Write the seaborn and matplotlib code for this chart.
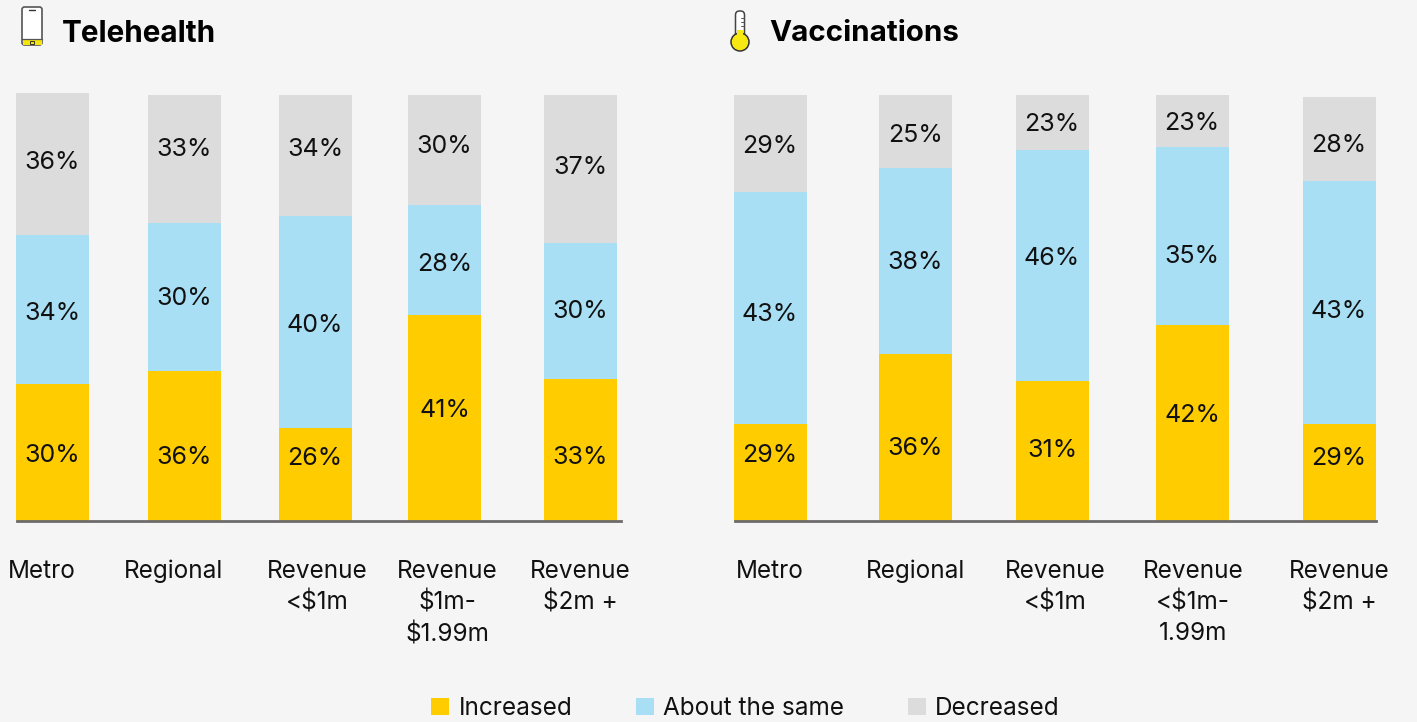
import numpy as np
import pandas as pd
import matplotlib
matplotlib.use("Agg")
import matplotlib.pyplot as plt
from matplotlib.patches import FancyBboxPatch, Circle, Rectangle
from matplotlib.lines import Line2D
import seaborn as sns

# ---------- data ----------
titles = ["Telehealth", "Vaccinations"]
series = ["Increased", "About the same", "Decreased"]
categories_tele = ["Metro", "Regional", "Revenue\n<$1m", "Revenue\n$1m-\n$1.99m", "Revenue\n$2m +"]
categories_vacc = ["Metro", "Regional", "Revenue\n<$1m", "Revenue\n<$1m-\n1.99m", "Revenue\n$2m +"]

# printed labels
tele_inc_lab = [30, 36, 26, 41, 33]
tele_same_lab = [34, 30, 40, 28, 30]
tele_dec_lab = [36, 33, 34, 30, 37]
vacc_inc_lab = [29, 36, 31, 42, 29]
vacc_same_lab = [43, 38, 46, 35, 43]
vacc_dec_lab = [29, 25, 23, 23, 28]

# drawn segment heights (share of a full bar)
tele_inc = [32.2, 35.2, 21.8, 48.4, 33.3]
tele_same = [35.0, 34.7, 49.8, 25.8, 31.9]
tele_dec = [33.3, 30.0, 28.4, 25.8, 34.7]
vacc_inc = [22.8, 39.2, 32.9, 46.0, 22.8]
vacc_same = [54.4, 43.7, 54.2, 41.8, 57.0]
vacc_dec = [22.8, 17.1, 12.9, 12.2, 19.7]

# ---------- layout (pixels in a 1417x722 figure) ----------
W, H = 1417, 722
BASE_Y, TOP_Y = 521, 95
BG = "#F5F5F5"
COLORS = ["#FFCC00", "#A8DFF4", "#DCDCDC"]
TEXT = "#111111"
FONT = "Inter"

centres = [[52.5, 184.5, 315, 444.5, 580.5], [770, 915, 1052, 1192, 1339]]
tick_x = [[42, 173, 317, 447, 580], [770, 915, 1055, 1193, 1339]]
spine_x = [(17, 620.5), (735, 1376)]
BAR_W = 73
# label nudges (px, positive = downwards) for [inc, same, dec]
nudges = [
    [[1, 9, -19, -10, 5], [2, -1, 1, 2, -2], [-4, -12, -8, -6, -4]],
    [[-19, 8, -3, -10, -16], [4, -1, -9, 18, 7], [0, 2, 0, 0, 4]],
]

sns.set_theme(style="white", rc={"figure.facecolor": BG, "axes.facecolor": "none"})
plt.rcParams["font.family"] = [FONT, "DejaVu Sans"]

fig = plt.figure(figsize=(W / 100, H / 100), dpi=100, facecolor=BG)

panels = [
    (tele_inc, tele_same, tele_dec, tele_inc_lab, tele_same_lab, tele_dec_lab, categories_tele),
    (vacc_inc, vacc_same, vacc_dec, vacc_inc_lab, vacc_same_lab, vacc_dec_lab, categories_vacc),
]
x_ranges = [(0, 700), (700, 1417)]
unit = (BASE_Y - TOP_Y) / 100.0

for i, panel in enumerate(panels):
    x0, x1 = x_ranges[i]
    ax = fig.add_axes([x0 / W, 1 - BASE_Y / H, (x1 - x0) / W, (BASE_Y - TOP_Y + 10) / H])
    ax.set_xlim(x0, x1)
    ax.set_ylim(0, (BASE_Y - TOP_Y + 10) / unit)
    heights = panel[:3]
    labels = panel[3:6]
    cats = panel[6]
    bottom = np.zeros(5)
    spacing = min(np.diff(centres[i]))
    for s, vals in enumerate(heights):
        df = pd.DataFrame({"x": centres[i], "y": vals})
        sns.barplot(data=df, x="x", y="y", native_scale=True, bottom=bottom,
                    color=COLORS[s], saturation=1, width=BAR_W / spacing,
                    linewidth=0, errorbar=None, ax=ax)
        for j, v in enumerate(vals):
            ax.annotate(f"{labels[s][j]}%", (centres[i][j], bottom[j] + v / 2),
                        xytext=(0, -nudges[i][s][j]), textcoords="offset pixels",
                        ha="center", va="center_baseline", fontsize=18, color=TEXT)
        bottom = bottom + np.array(vals)
    ax.set_xlim(x0, x1)
    ax.set_ylim(0, (BASE_Y - TOP_Y + 10) / unit)
    ax.set_xlabel("")
    ax.set_ylabel("")
    ax.set_yticks([])
    ax.set_xticks(tick_x[i])
    ax.set_xticklabels(cats, fontsize=17.5, color=TEXT, linespacing=1.4)
    ax.tick_params(axis="x", length=0, pad=28)
    for side in ("top", "left", "right"):
        ax.spines[side].set_visible(False)
    ax.spines["bottom"].set_color("#6B6B6B")
    ax.spines["bottom"].set_linewidth(2.0)
    ax.spines["bottom"].set_bounds(*spine_x[i])

# titles
fig.text(61.5 / W, 1 - 33.5 / H, titles[0], fontsize=21.4, fontweight="bold", color="#000000", va="center")
fig.text(769.5 / W, 1 - 33.5 / H, titles[1], fontsize=21.3, fontweight="bold", color="#000000", va="center")

# icons on a pixel overlay
ov = fig.add_axes([0, 0, 1, 1], facecolor="none")
ov.set_xlim(0, W)
ov.set_ylim(H, 0)
ov.axis("off")
ov.add_patch(FancyBboxPatch((22, 7), 20, 38, boxstyle="round,pad=0,rounding_size=2.5",
                            fc="white", ec="#555555", lw=1.2))
ov.add_patch(Rectangle((22.5, 39), 19, 5.5, fc="#F5E50A", ec="none"))
ov.add_line(Line2D([22, 42], [39, 39], color="#555555", lw=0.9))
ov.add_line(Line2D([29, 35], [10, 10], color="#333333", lw=1))
ov.add_patch(Rectangle((30, 40.5), 4, 3, fc="#F5E50A", ec="#333333", lw=0.7))
ov.add_patch(FancyBboxPatch((735.5, 11), 9, 28, boxstyle="round,pad=0,rounding_size=4",
                            fc="white", ec="#444444", lw=1.1))
ov.add_patch(Circle((740, 42), 9, fc="#F7E811", ec="#333333", lw=1.1))
ov.add_patch(Rectangle((737, 30), 6, 6, fc="#F7E811", ec="none"))
for y in (18, 22, 26):
    ov.add_line(Line2D([741, 744], [y, y], color="#555555", lw=0.7))

# legend
handles = [Rectangle((0, 0), 1, 1, fc=c, ec="none") for c in COLORS]
fig.legend(handles, series, loc="center", bbox_to_anchor=(745.5 / W, 1 - 708.5 / H), ncol=3,
           frameon=False, fontsize=17.5, handlelength=0.74, handleheight=0.74,
           handletextpad=0.4, columnspacing=2.6, labelcolor=TEXT)

fig.savefig("out.png", dpi=100, facecolor=BG)
